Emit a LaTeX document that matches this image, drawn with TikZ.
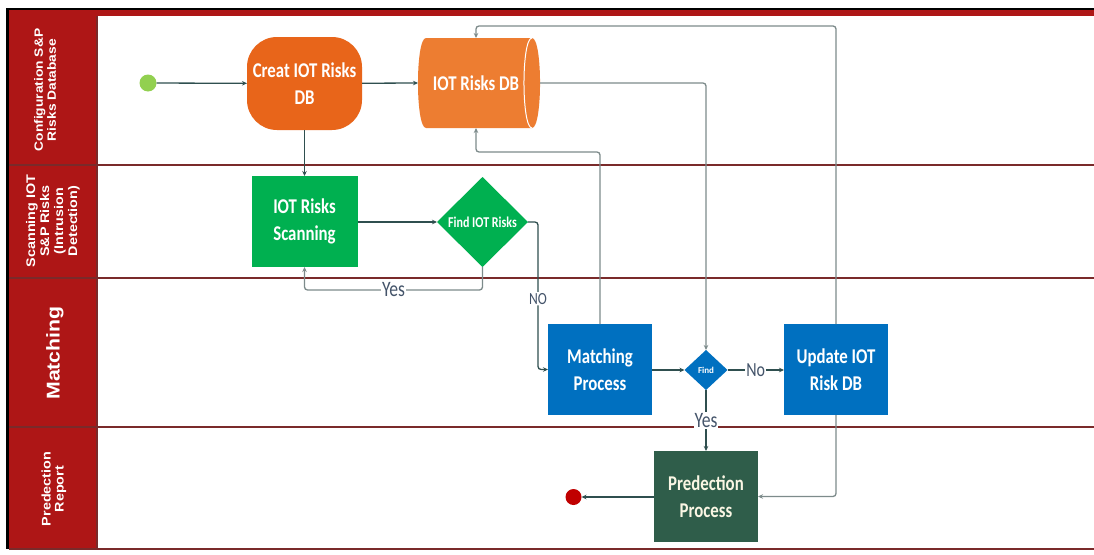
\documentclass[tikz,border=0pt]{standalone}
\usepackage{fontspec}
\setmainfont{Carlito}
\newfontfamily\boxfont[FakeStretch=0.8]{Carlito}
\newfontfamily\lanefont[FakeStretch=1.15]{Liberation Sans}
\usetikzlibrary{shapes.geometric,arrows.meta}

\definecolor{laneRed}{HTML}{AE1616}
\definecolor{laneLine}{HTML}{7A2A2A}
\definecolor{orangeA}{HTML}{E8651A}
\definecolor{orangeB}{HTML}{ED7D31}
\definecolor{greenA}{HTML}{00B050}
\definecolor{blueA}{HTML}{0070C0}
\definecolor{darkGreen}{HTML}{2F5D4A}
\definecolor{startGreen}{HTML}{92D050}
\definecolor{endRed}{HTML}{C00000}
\definecolor{flowC}{HTML}{2F4F4F}
\definecolor{backC}{HTML}{7D8B8B}
\definecolor{labelC}{HTML}{44546A}

\tikzset{
  box/.style={draw=none, inner sep=2pt, outer sep=0pt, text=white, align=center,
    font=\boxfont\bfseries\fontsize{21}{27}\selectfont,
    minimum width=104pt, minimum height=91pt},
  lanetxt/.style={text=white, align=center, inner sep=0pt, rotate=90},
  flow/.style={draw=flowC, line width=1.3pt, -{Stealth[length=5pt,width=4.5pt]}},
  back/.style={draw=backC, line width=1.3pt, rounded corners=3pt, -{Stealth[length=5pt,width=4.5pt]}},
  lbl/.style={fill=white, inner sep=1pt, text=labelC, font=\boxfont\fontsize{22}{22}\selectfont},
  sep/.style={draw=laneLine, line width=1.6pt}
}

\begin{document}
\begin{tikzpicture}[x=1pt, y=-1pt]
\useasboundingbox (0,0) rectangle (1094,554);
\fill[white] (0,0) rectangle (1094,554);

% frame and lane header column
\fill[laneRed] (9,10) rectangle (1094,16);
\fill[laneRed] (9,16) rectangle (97,549);
\draw[black, line width=2pt] (6,8.5) -- (1094,8.5);
\draw[black, line width=3pt] (7.5,8) -- (7.5,549);
\draw[laneLine, line width=1.2pt] (97,16) -- (97,549);

% lane separators
\coordinate (s1) at (9,165);
\coordinate (s2) at (9,278);
\coordinate (s3) at (9,427);
\coordinate (s4) at (9,549);
\draw[sep] (s1) -- (1094,165);
\draw[sep] (s2) -- (1094,278);
\draw[sep] (s3) -- (1094,427);
\draw[sep] (s4) -- (1094,549);

% lane titles
\node[lanetxt, font=\lanefont\bfseries\fontsize{12}{13}\selectfont] (lane1) at (45,90) {Configuration S\&P\\Risks Database};
\node[lanetxt, font=\lanefont\bfseries\fontsize{12.5}{14}\selectfont] (lane2) at (53,221) {Scanning IOT\\S\&P Risks\\(Intrusion\\Detection)};
\node[lanetxt, font=\lanefont\bfseries\fontsize{18.5}{20}\selectfont] (lane3) at (55,353) {Matching};
\node[lanetxt, font=\lanefont\bfseries\fontsize{12.5}{13}\selectfont] (lane4) at (54,489) {Predection\\Report};

% database cylinder
\fill[orangeB] (426,38) -- (532,38) .. controls (542.7,38) and (542.7,128) .. (532,128)
  -- (426,128) .. controls (415.3,128) and (415.3,38) .. (426,38) -- cycle;
\draw[white, line width=1pt] (532,38) .. controls (521.3,38) and (521.3,128) .. (532,128);

% nodes
\node[circle, fill=startGreen, minimum size=17pt, inner sep=0pt, outer sep=0pt] (start) at (148,83) {};
\node[box, fill=orangeA, rounded corners=30pt, minimum width=115pt, minimum height=93pt] (create) at (304.5,83.5) {Creat IOT Risks\\DB};
\node[box, minimum width=122pt, minimum height=90pt] (db) at (479,83) {\hspace*{-6pt}IOT Risks DB};
\node[box, fill=greenA, minimum width=106pt, minimum height=91pt] (scan) at (304.5,221.5) {IOT Risks\\Scanning};
\node[diamond, fill=greenA, inner sep=0pt, outer sep=0pt, minimum width=91pt, minimum height=90pt,
      text=white, font=\boxfont\bfseries\fontsize{15}{15}\selectfont] (findR) at (482.5,222) {Find IOT Risks};
\node[box, fill=blueA] (match) at (600,369.5) {Matching\\Process};
\node[diamond, fill=blueA, inner sep=0pt, outer sep=0pt, minimum width=43pt, minimum height=40pt,
      text=white, font=\bfseries\fontsize{9}{9}\selectfont] (find) at (706,370) {Find};
\node[box, fill=blueA] (update) at (836,369.5) {Update IOT\\Risk DB};
\node[box, fill=darkGreen, text={rgb,255:red,250;green,246;blue,228}] (pred) at (706,496.5) {Predection\\Process};
\node[circle, fill=endRed, minimum width=16pt, inner sep=0pt, outer sep=0pt] (stop) at (573.5,497) {};

% helper levels for the feedback loops
\coordinate (topY) at (0,26);
\coordinate (midY) at (0,152);

% connectors
\draw[flow] (start) -- (create);
\draw[flow] (create) -- (db.west);
\draw[flow] (create.south) -- (scan.north);
\draw[flow] (scan.east |- findR.west) -- (findR.west);
\draw[back] (findR.south) -- ++(0,23) -| node[pos=0.25, lbl] {Yes} (scan.south);
\draw[flow, rounded corners=3pt] (findR.east) -- ++(10,0) |- node[pos=0.26, fill=white, inner sep=1pt, text=labelC, font=\boxfont\fontsize{17}{17}\selectfont] {NO} (match.west);
\draw[back] (match.north) -- (match.north |- midY) -| ([xshift=-3pt]db.south);
\draw[back] (update.north) -- (update.north |- topY) -| ([xshift=-3pt]db.north);
\draw[back] (db.east) -| (find.north);
\draw[flow] (match.east |- find.west) -- (find.west);
\draw[flow] (find.east) -- node[lbl, font=\boxfont\fontsize{20}{20}\selectfont] {No} (update.west |- find.east);
\draw[flow] (find.south) -- node[lbl] {Yes} (pred.north);
\draw[back] (update.south) |- (pred.east);
\draw[flow] (pred.west |- stop.east) -- (stop.east);
\end{tikzpicture}
\end{document}
